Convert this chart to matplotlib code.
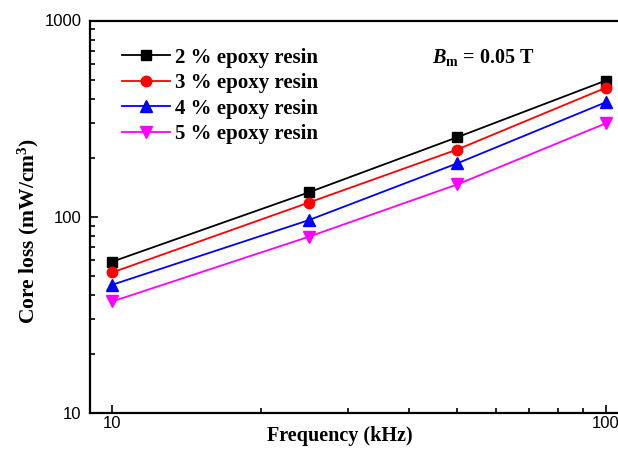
import numpy as np
import matplotlib.pyplot as plt
from matplotlib.ticker import NullFormatter, FixedLocator

plt.rcParams['mathtext.fontset'] = 'custom'
plt.rcParams['mathtext.rm'] = 'Liberation Serif:bold'
plt.rcParams['mathtext.bf'] = 'Liberation Serif:bold'
plt.rcParams['mathtext.it'] = 'Liberation Serif:bold:italic'

# data
freq = [10, 25, 50, 100]
loss_2 = [59, 133, 254, 494]
loss_3 = [52, 118, 220, 454]
loss_4 = [45, 96, 187, 383]
loss_5 = [37, 79, 146, 299]
labels = ['2 % epoxy resin', '3 % epoxy resin', '4 % epoxy resin', '5 % epoxy resin']

fig = plt.figure(figsize=(6.18, 4.53), dpi=100)
ax = fig.add_axes([90 / 618, 1 - 413 / 453, 540 / 618, 392.5 / 453])

ax.plot(freq, loss_2, '-s', color='black', lw=1.3, ms=6.5, label=labels[0])
ax.plot(freq, loss_3, '-o', color='red', lw=1.3, ms=7.5, label=labels[1])
ax.plot(freq, loss_4, '-^', color='blue', lw=1.3, ms=8, label=labels[2])
ax.plot(freq, loss_5, '-v', color='magenta', lw=1.3, ms=8, label=labels[3])

ax.set_xscale('log')
ax.set_yscale('log')
ax.set_xlim(9.02, 112)
ax.set_ylim(10, 1000)

ax.xaxis.set_major_locator(FixedLocator([10, 100]))
ax.set_xticklabels(['10', '100'])
ax.xaxis.set_minor_formatter(NullFormatter())
ax.set_yticks([10, 100, 1000])
ax.set_yticklabels(['10', '100', '1000'])
ax.yaxis.set_minor_formatter(NullFormatter())

ax.tick_params(which='both', direction='in', top=False, right=False,
               labelsize=12, width=1.2)
ax.tick_params(which='major', length=6)
ax.tick_params(which='minor', length=3.5)
ax.tick_params(axis='y', pad=6)
ax.tick_params(axis='x', pad=2.5)
for lab in ax.get_xticklabels() + ax.get_yticklabels():
    lab.set_fontfamily('Liberation Sans')
for s in ax.spines.values():
    s.set_linewidth(1.6)

ax.set_xlabel('Frequency (kHz)', fontsize=14.5, fontweight='bold',
              family='Liberation Serif', labelpad=-4)
ax.xaxis.label.set_x((340 - 90) / 540)
ax.set_ylabel('Core loss (mW/cm$^{3}$)', fontsize=15.5, fontweight='bold',
              family='Liberation Serif')
ax.yaxis.set_label_coords((41 - 90) / 540, (413 - 231) / 392.5)

fig.text(432 / 618, 1 - 57 / 453, r'$\mathit{B}_{\mathrm{m}}$ = 0.05 T',
         fontsize=14.5, fontweight='bold', family='Liberation Serif',
         va='center', ha='left')

leg = ax.legend(loc='upper left', bbox_to_anchor=(32 / 540, 1 - 27 / 392.5),
                frameon=False,
                prop={'family': 'Liberation Serif', 'weight': 'bold', 'size': 15},
                handlelength=2.3, labelspacing=0.27, handletextpad=0.25,
                borderaxespad=0, borderpad=0)

fig.savefig('out.png', dpi=100)
